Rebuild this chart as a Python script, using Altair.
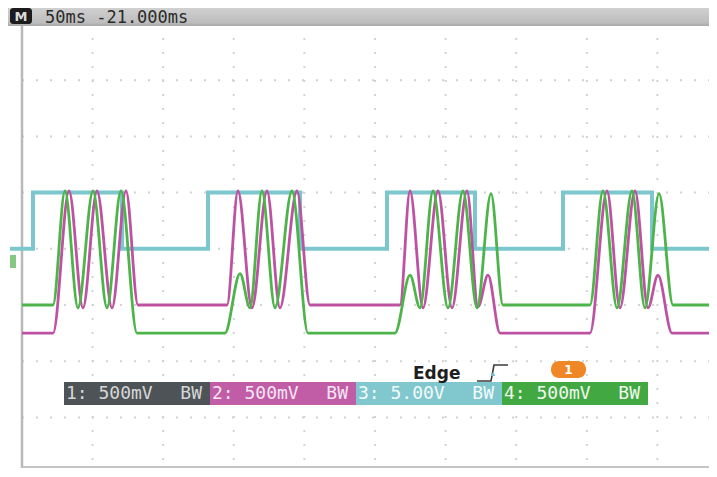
import altair as alt
import pandas as pd

# ---------------- data (x: divisions of 50 ms, y: vertical divisions from bottom) ----------------
ch3_t = [-0.17, 0.156, 1.416, 2.635, 3.938, 5.17, 6.416, 7.663, 8.924, 9.9]
ch3_v = [4.0, 5.0, 4.0, 5.0, 4.0, 5.0, 4.0, 5.0, 4.0, 4.0]

ch2_t = [0.0, 0.44, 0.666, 0.864, 1.062, 1.275, 1.473, 1.643, 2.904, 3.059, 3.258, 3.47, 3.654,
         3.895, 4.079, 5.354, 5.496, 5.68, 5.892, 6.091, 6.303, 6.459, 6.601, 6.771, 8.045, 8.286,
         8.47, 8.683, 8.867, 9.008, 9.207, 9.9]
ch2_v = [2.5, 2.5, 5.03, 2.95, 5.03, 2.95, 5.03, 3.0, 3.0, 5.03, 2.95, 5.03, 2.95,
         5.03, 3.0, 3.0, 5.03, 2.95, 5.03, 2.95, 5.03, 2.97, 3.53, 2.5, 2.5, 5.03,
         2.95, 5.03, 2.95, 3.53, 2.5, 2.5]

ch4_t = [0.0, 0.439, 0.609, 0.793, 1.006, 1.204, 1.402, 1.629, 2.875, 3.088, 3.229, 3.399, 3.584,
         3.824, 4.051, 5.283, 5.496, 5.637, 5.822, 6.034, 6.246, 6.445, 6.643, 6.813, 8.045, 8.229,
         8.428, 8.64, 8.824, 9.023, 9.221, 9.9]
ch4_v = [3.0, 3.0, 5.03, 2.95, 5.03, 2.95, 5.03, 2.5, 2.5, 3.56, 2.95, 5.03, 2.95,
         5.03, 2.5, 2.5, 3.53, 2.95, 5.03, 2.95, 5.03, 2.95, 4.98, 3.0, 3.0, 5.03,
         2.95, 5.03, 2.95, 4.98, 3.0, 3.0]

legend_labels = ["1: 500mV", "2: 500mV", "3: 5.00V", "4: 500mV"]
legend_tag = "BW"
header_text = "50ms -21.000ms"
trigger_text = "Edge"
trigger_source = "1"
grid_x = [1, 2, 3, 4, 5, 6, 7, 8, 9]
grid_y = [1, 2, 3, 4, 5, 6, 7]

# ---------------- layout / style ----------------
DX, DY = 70.6, 56.2          # pixels per division
W, H = 687, 444              # plot area
XDOM = [0, W / DX]
YDOM = [8 - H / DY, 8]
PX0, PY0 = 22, 24            # page position of the plot origin


def X(px):
    return (px - PX0) / DX


def Y(py):
    return 8 - (py - PY0) / DY


xs = alt.Scale(domain=XDOM, nice=False, zero=False)
ys = alt.Scale(domain=YDOM, nice=False, zero=False)

one = pd.DataFrame({"a": [0]})

grid_v = alt.Chart(pd.DataFrame({"d": grid_x})).mark_rule(
    color="#d2d2d2", strokeWidth=2, strokeDash=[2, 12]
).encode(x=alt.X("d:Q", scale=xs, axis=None), y=alt.value(0), y2=alt.value(H))

grid_h = alt.Chart(pd.DataFrame({"v": grid_y})).mark_rule(
    color="#d2d2d2", strokeWidth=2, strokeDash=[2, 12]
).encode(y=alt.Y("v:Q", scale=ys, axis=None), x=alt.value(0), x2=alt.value(W))

border_l = alt.Chart(one).mark_rule(color="#b9b9b9", strokeWidth=2.5).encode(
    x=alt.value(0), y=alt.value(0), y2=alt.value(H))
border_b = alt.Chart(one).mark_rule(color="#c4c4c4", strokeWidth=2).encode(
    y=alt.value(H - 1), x=alt.value(0), x2=alt.value(W))

ch3 = alt.Chart(pd.DataFrame({"t": ch3_t, "v": ch3_v})).mark_line(
    interpolate="step-after", color="#7cc6ce", strokeWidth=4
).encode(x=alt.X("t:Q", scale=xs, axis=None), y=alt.Y("v:Q", scale=ys, axis=None))

ch2 = alt.Chart(pd.DataFrame({"t": ch2_t, "v": ch2_v})).mark_line(
    interpolate="monotone", color="#be52a2", strokeWidth=2.8
).encode(x=alt.X("t:Q", scale=xs, axis=None), y=alt.Y("v:Q", scale=ys, axis=None))

ch4 = alt.Chart(pd.DataFrame({"t": ch4_t, "v": ch4_v})).mark_line(
    interpolate="monotone", color="#4db449", strokeWidth=2.8
).encode(x=alt.X("t:Q", scale=xs, axis=None), y=alt.Y("v:Q", scale=ys, axis=None))

# channel legend bar
seg_fill = ["#4d5356", "#c15ca7", "#80c7ce", "#42a842"]
seg_text = ["#d6d6d6", "#f6e6f2", "#f2fbfb", "#eef8ee"]
leg = pd.DataFrame({
    "label": legend_labels,
    "tag": [legend_tag] * 4,
    "fill": seg_fill,
    "tc": seg_text,
    "x0": [X(64 + 146 * i) for i in range(4)],
    "x1": [X(64 + 146 * (i + 1)) for i in range(4)],
    "xl": [X(66 + 146 * i) for i in range(4)],
    "xr": [X(64 + 146 * (i + 1) - 8) for i in range(4)],
    "y0": [Y(405)] * 4,
    "y1": [Y(382)] * 4,
    "ym": [Y(394)] * 4,
})
bar = alt.Chart(leg).mark_rect().encode(
    x=alt.X("x0:Q", scale=xs, axis=None), x2="x1:Q",
    y=alt.Y("y0:Q", scale=ys, axis=None), y2="y1:Q",
    color=alt.Color("fill:N", scale=None))
bar_lab = alt.Chart(leg).mark_text(
    align="left", baseline="middle", font="DejaVu Sans Mono", fontSize=18
).encode(x=alt.X("xl:Q", scale=xs, axis=None), y=alt.Y("ym:Q", scale=ys, axis=None),
         text="label:N", color=alt.Color("tc:N", scale=None))
bar_tag = alt.Chart(leg).mark_text(
    align="right", baseline="middle", font="DejaVu Sans Mono", fontSize=18
).encode(x=alt.X("xr:Q", scale=xs, axis=None), y=alt.Y("ym:Q", scale=ys, axis=None),
         text="tag:N", color=alt.Color("tc:N", scale=None))

# trigger info
edge = alt.Chart(pd.DataFrame({"t": [trigger_text]})).mark_text(
    align="left", baseline="alphabetic", font="DejaVu Sans", fontWeight="bold",
    fontSize=17, color="#1e1e1e"
).encode(text="t:N", x=alt.value(413 - PX0), y=alt.value(379 - PY0))

trig_line = alt.Chart(pd.DataFrame({
    "x": [X(477), X(491), X(494), X(508)],
    "y": [Y(381), Y(381), Y(365), Y(365)],
    "o": [0, 1, 2, 3]})).mark_line(color="#3c3c3c", strokeWidth=1.6).encode(
    x=alt.X("x:Q", scale=xs, axis=None), y=alt.Y("y:Q", scale=ys, axis=None), order="o:Q")
trig_arrow = alt.Chart(one).mark_point(
    shape="triangle-up", filled=True, size=22, color="#6fbfc6", opacity=1
).encode(x=alt.value(493 - PX0), y=alt.value(374 - PY0))

pill = alt.Chart(one).mark_rect(color="#ef8727", cornerRadius=8).encode(
    x=alt.value(551 - PX0), x2=alt.value(586 - PX0),
    y=alt.value(361 - PY0), y2=alt.value(378 - PY0))
pill_t = alt.Chart(pd.DataFrame({"t": [trigger_source]})).mark_text(
    align="center", baseline="middle", font="DejaVu Sans", fontWeight="bold",
    fontSize=12, color="white"
).encode(text="t:N", x=alt.value(568.5 - PX0), y=alt.value(369.5 - PY0))

# header bar
header = alt.Chart(one).mark_rect(
    color=alt.Gradient(gradient="linear",
                       stops=[alt.GradientStop(color="#d0d0d0", offset=0),
                              alt.GradientStop(color="#bdbdbd", offset=0.8),
                              alt.GradientStop(color="#a8a8a8", offset=1)],
                       x1=0, x2=0, y1=0, y2=1)
).encode(x=alt.value(-14), x2=alt.value(W), y=alt.value(-16), y2=alt.value(2))
mbox = alt.Chart(one).mark_rect(color="#1c1c1c", cornerRadius=3).encode(
    x=alt.value(10 - PX0), x2=alt.value(32 - PX0), y=alt.value(-16), y2=alt.value(0))
mtext = alt.Chart(pd.DataFrame({"t": ["M"]})).mark_text(
    align="center", baseline="middle", font="DejaVu Sans", fontWeight="bold",
    fontSize=13, color="#dcdcdc"
).encode(text="t:N", x=alt.value(21 - PX0), y=alt.value(-7.5))
htext = alt.Chart(pd.DataFrame({"t": [header_text]})).mark_text(
    align="left", baseline="middle", font="DejaVu Sans Mono", fontSize=17, color="#2a2a2a"
).encode(text="t:N", x=alt.value(45 - PX0), y=alt.value(-6.5))

# ground marker on the left edge
gmark = alt.Chart(one).mark_rect(color="#86c784").encode(
    x=alt.value(10 - PX0), x2=alt.value(16 - PX0),
    y=alt.value(255 - PY0), y2=alt.value(268 - PY0))

chart = alt.layer(
    grid_v, grid_h, border_l, border_b, ch3, ch2, ch4,
    bar, bar_lab, bar_tag, edge, trig_line, trig_arrow, pill, pill_t,
    header, mbox, mtext, htext, gmark
).properties(
    width=W, height=H,
    padding={"left": 14, "top": 16, "right": 0, "bottom": 0},
    autosize=alt.AutoSizeParams(type="none"),
    background="white",
).configure_view(stroke=None)

chart.save("out.html", embed_options={"renderer": "svg", "actions": False})
